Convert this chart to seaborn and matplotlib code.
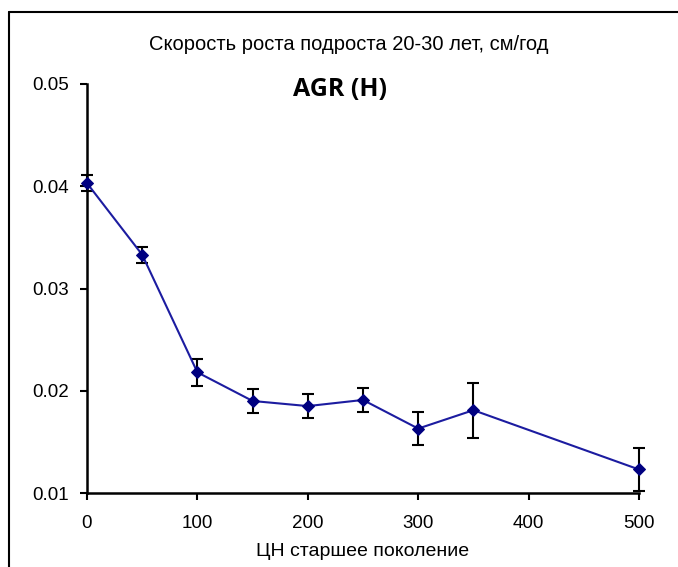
import matplotlib
matplotlib.use("Agg")
import matplotlib.pyplot as plt
from matplotlib.lines import Line2D
import seaborn as sns
import pandas as pd

# data
x_vals = [0, 50, 100, 150, 200, 250, 300, 350, 500]
agr = [0.0403, 0.0333, 0.0218, 0.0190, 0.0185, 0.0191, 0.0163, 0.0181, 0.0123]
err = [0.0008, 0.0008, 0.0013, 0.0012, 0.0012, 0.0012, 0.0016, 0.0027, 0.0021]
x_ticks = [0, 100, 200, 300, 400, 500]
y_ticks = [0.01, 0.02, 0.03, 0.04, 0.05]
y_tick_labels = ["0.01", "0.02", "0.03", "0.04", "0.05"]

title_text = "Скорость роста подроста 20-30 лет, см/год"
sub_title = "AGR (H)"
x_label = "ЦН старшее поколение"

sns.set_style("white")
plt.rcParams['font.family'] = ['Liberation Sans', 'DejaVu Sans']
plt.rcParams['text.color'] = 'black'
plt.rcParams['axes.labelcolor'] = 'black'
plt.rcParams['xtick.color'] = 'black'
plt.rcParams['ytick.color'] = 'black'

df = pd.DataFrame({"x": x_vals, "y": agr, "e": err})

fig = plt.figure(figsize=(6.78, 5.67), dpi=100)
ax = fig.add_axes([87/678, 1 - 493/567, (639-87)/678, (493-84)/567])

ax.errorbar(df["x"], df["y"], yerr=df["e"], fmt="none", ecolor="black",
            elinewidth=1.5, capsize=4.5, capthick=1.5, zorder=2, clip_on=False)
sns.lineplot(data=df, x="x", y="y", ax=ax, color="#1c1ca0", linewidth=1.5,
             marker="D", markersize=6.5, markerfacecolor="#000080",
             markeredgecolor="#000080", zorder=3, clip_on=False)

ax.set_xlim(0, 500)
ax.set_ylim(0.01, 0.05)
ax.set_xticks(x_ticks)
ax.set_xticklabels([str(t) for t in x_ticks])
ax.set_yticks(y_ticks)
ax.set_yticklabels(y_tick_labels)
ax.tick_params(axis="both", direction="out", length=5, width=1.5, color="black",
               labelcolor="black", labelsize=13.5, bottom=True, left=True)
ax.tick_params(axis="x", pad=11)
ax.tick_params(axis="y", pad=8)
for s in ["top", "right"]:
    ax.spines[s].set_visible(False)
for s in ["left", "bottom"]:
    ax.spines[s].set_color("black")
    ax.spines[s].set_linewidth(1.8)

ax.set_xlabel(x_label, fontsize=14, labelpad=8, color="black")
ax.set_ylabel("")

fig.text(349/678, 1 - 44/567, title_text, ha="center", va="center",
         fontsize=14.5, color="black")
fig.text(340/678, 1 - 90/567, sub_title, ha="center", va="center", fontsize=18,
         fontweight="bold", color="black", family=["Open Sans", "DejaVu Sans"])

# outer frame
fig.add_artist(Line2D([9/678, 1.0], [1 - 12/567, 1 - 12/567], color="black", linewidth=1.5))
fig.add_artist(Line2D([9/678, 9/678], [1 - 12/567, 0.0], color="black", linewidth=1.5))

fig.savefig("out.png", dpi=100)
